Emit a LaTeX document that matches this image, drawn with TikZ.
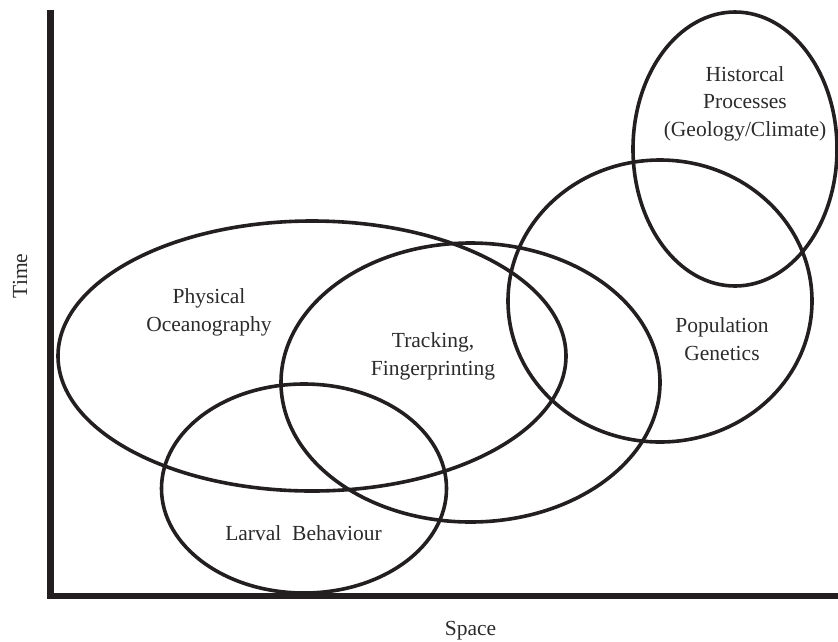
\documentclass[tikz,border=0pt]{standalone}
\usepackage{fontspec}
\setmainfont{Liberation Serif}
\definecolor{ink}{HTML}{231F20}
\definecolor{txt}{HTML}{2B2B2B}
\begin{document}
\begin{tikzpicture}[x=1pt,y=-1pt,
  field/.style={draw=ink,line width=3.6pt},
  axisline/.style={draw=ink,line width=6.5pt},
  lbl/.style={inner sep=0pt,text=txt,font=\fontsize{21.5}{27.5}\selectfont,align=center,anchor=base}]
\useasboundingbox (0,0) rectangle (838,641);
% axes
\coordinate (top) at (50.5,10);
\coordinate (origin) at (50.5,596);
\coordinate (xend) at (838,596);
\draw[axisline] (top) -- (origin |- 0,599.25);
\draw[axisline] (47.25,596) -- (xend);
% ellipses
\draw[field] (312,356) ellipse [x radius=254, y radius=135];
\draw[field] (470.5,382.5) ellipse [x radius=189.5, y radius=139.5];
\draw[field] (304,488.5) ellipse [x radius=142.5, y radius=104.5];
\draw[field] (660,301) ellipse [x radius=152, y radius=141];
\draw[field] (735,149) ellipse [x radius=102, y radius=137];
% labels (anchor at baseline of last line)
\node[lbl] (po) at (209,331) {Physical\\Oceanography};
\node[lbl] (tf) at (433,375) {Tracking,\\Fingerprinting};
\node[lbl] (lb) at (303.5,540) {Larval\ \ Behaviour};
\node[lbl] (pg) at (722,360) {Population\\Genetics};
\node[lbl] (hp) at (745,136) {Historcal\\Processes\\(Geology/Climate)};
\node[lbl,anchor=center,rotate=90] (time) at (20,276) {Time};
\node[lbl] (space) at (470.5,635) {Space};
\end{tikzpicture}
\end{document}
